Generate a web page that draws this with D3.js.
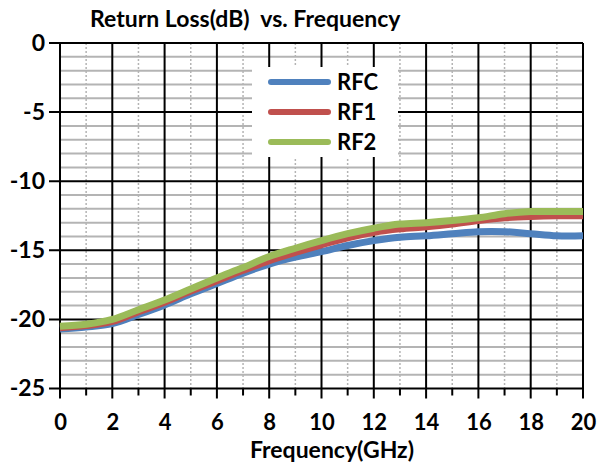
<!DOCTYPE html>
<html><head><meta charset="utf-8">
<script src="https://cdn.jsdelivr.net/npm/d3@7/dist/d3.min.js"></script>
<style>
html,body{margin:0;padding:0;background:#fff;}
svg{display:block;font-family:Lato,"Open Sans",sans-serif;font-weight:bold;}
</style></head>
<body>
<svg id="chart" width="598" height="466"></svg>
<script>
const freq = [0,1,2,3,4,5,6,7,8,9,10,11,12,13,14,15,16,17,18,19,20];
const rfc = [-20.7,-20.55,-20.3,-19.65,-18.95,-18.15,-17.4,-16.65,-16.0,-15.5,-15.1,-14.65,-14.3,-14.05,-13.95,-13.8,-13.65,-13.65,-13.8,-13.95,-13.95];
const rf1 = [-20.6,-20.45,-20.15,-19.45,-18.75,-17.95,-17.2,-16.45,-15.75,-15.15,-14.6,-14.1,-13.7,-13.45,-13.3,-13.1,-12.85,-12.65,-12.55,-12.5,-12.5];
const rf2 = [-20.5,-20.35,-20.0,-19.3,-18.6,-17.8,-17.0,-16.25,-15.45,-14.85,-14.3,-13.8,-13.4,-13.1,-13.0,-12.85,-12.65,-12.35,-12.2,-12.2,-12.2];
const seriesNames = ["RFC","RF1","RF2"];
const seriesColors = ["#4F81BD","#C0504D","#9BBB59"];
const xTicks = [0,2,4,6,8,10,12,14,16,18,20];
const xMinor = [1,3,5,7,9,11,13,15,17,19];
const yTicks = [0,-5,-10,-15,-20,-25];
const yMinor = [-1,-2,-3,-4,-6,-7,-8,-9,-11,-12,-13,-14,-16,-17,-18,-19,-21,-22,-23,-24];
const title = "Return Loss(dB)  vs. Frequency";
const xTitle = "Frequency(GHz)";

const svg = d3.select("#chart");
const L = 60, R = 583, T = 43, B = 388.5;
const x = d3.scaleLinear().domain([0,20]).range([L,R]);
const y = d3.scaleLinear().domain([0,-25]).range([T,B]);

// minor horizontal grid (grey)
svg.append("g").selectAll("line").data(yMinor).join("line")
  .attr("x1",L).attr("x2",R).attr("y1",d=>y(d)).attr("y2",d=>y(d))
  .attr("stroke","#b4b4b4").attr("stroke-width",2);
// minor vertical dotted grid
svg.append("g").selectAll("line").data(xMinor).join("line")
  .attr("x1",d=>x(d)).attr("x2",d=>x(d)).attr("y1",T).attr("y2",B)
  .attr("stroke","#b4b4b4").attr("stroke-width",1.5).attr("stroke-dasharray","2,2");
// major horizontal grid (black), extend as tick to the left
svg.append("g").selectAll("line").data(yTicks).join("line")
  .attr("x1",L-11).attr("x2",R).attr("y1",d=>y(d)).attr("y2",d=>y(d))
  .attr("stroke","#000").attr("stroke-width",2);
// major vertical grid (black), extend below as tick
svg.append("g").selectAll("line").data(xTicks).join("line")
  .attr("x1",d=>x(d)).attr("x2",d=>x(d)).attr("y1",T).attr("y2",B+10)
  .attr("stroke","#000").attr("stroke-width",2);
// minor x ticks
svg.append("g").selectAll("line").data(xMinor).join("line")
  .attr("x1",d=>x(d)).attr("x2",d=>x(d)).attr("y1",B).attr("y2",B+7)
  .attr("stroke","#000").attr("stroke-width",2);

// axes labels via d3 axes
const xAxis = svg.append("g").attr("transform",`translate(0,${B})`)
  .call(d3.axisBottom(x).tickValues(xTicks).tickSize(0).tickPadding(26).tickFormat(d=>String(d)));
xAxis.select(".domain").remove();
xAxis.selectAll("text").attr("font-size",22).attr("font-weight","bold").attr("fill","#000")
  .attr("font-family","Lato, 'Open Sans', sans-serif");
const yAxis = svg.append("g").attr("transform",`translate(${L},0)`)
  .call(d3.axisLeft(y).tickValues(yTicks).tickSize(0).tickPadding(15).tickFormat(d=>String(d)));
yAxis.select(".domain").remove();
yAxis.selectAll("text").attr("font-size",23).attr("font-weight","bold").attr("fill","#000")
  .attr("font-family","Lato, 'Open Sans', sans-serif");

// legend box
const lg = svg.append("g");
lg.append("rect").attr("x",252).attr("y",67).attr("width",146).attr("height",90).attr("fill","#fff");
seriesNames.forEach((n,i)=>{
  const yy = 82 + i*30;
  lg.append("line").attr("x1",271).attr("x2",328).attr("y1",yy).attr("y2",yy)
    .attr("stroke",seriesColors[i]).attr("stroke-width",6).attr("stroke-linecap","round");
  lg.append("text").attr("x",337).attr("y",yy).attr("dy","0.36em").attr("font-size",22)
    .attr("fill","#000").text(n);
});

// lines
const data = [rfc, rf1, rf2];
const line = d3.line().x((d,i)=>x(freq[i])).y(d=>y(d)).curve(d3.curveCatmullRom.alpha(0.5));
data.forEach((s,i)=>{
  svg.append("path").datum(s).attr("d",line).attr("fill","none")
    .attr("stroke",seriesColors[i]).attr("stroke-width",7).attr("stroke-linejoin","round");
});

// titles
svg.append("text").attr("x",90).attr("y",27).attr("font-size",23).attr("fill","#000")
  .attr("xml:space","preserve").text(title);
svg.append("text").attr("x",332).attr("y",458).attr("text-anchor","middle").attr("font-size",23)
  .attr("fill","#000").text(xTitle);
</script>
</body></html>
